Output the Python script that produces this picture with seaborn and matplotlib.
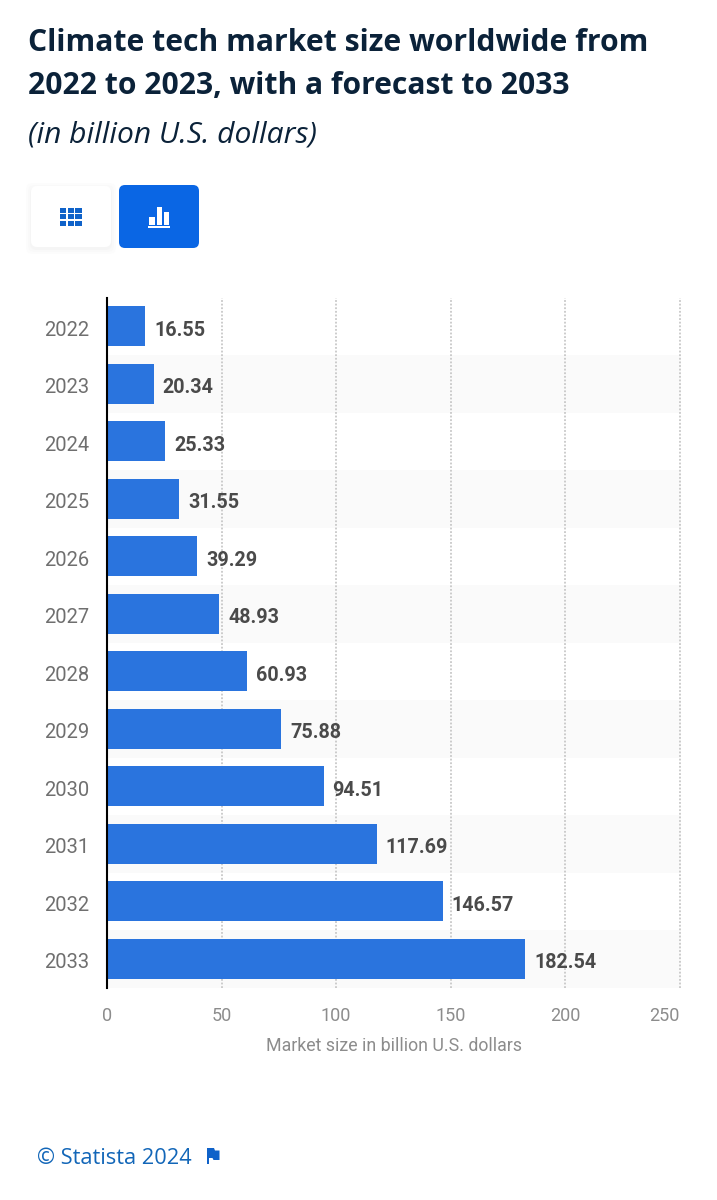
import matplotlib
matplotlib.use('Agg')
import matplotlib.pyplot as plt
import pandas as pd
import seaborn as sns
from matplotlib.patches import FancyBboxPatch, Polygon, Rectangle
from matplotlib.transforms import ScaledTranslation

years = ['2022', '2023', '2024', '2025', '2026', '2027',
         '2028', '2029', '2030', '2031', '2032', '2033']
market_size = [16.55, 20.34, 25.33, 31.55, 39.29, 48.93,
               60.93, 75.88, 94.51, 117.69, 146.57, 182.54]
x_ticks = [0, 50, 100, 150, 200, 250]

W, H = 717, 1200
BAR_COLOR = '#2a74de'
BUTTON_BLUE = '#0a66e4'
ICON_BLUE = '#0f62c9'
TITLE_COLOR = '#0b2239'


def draw_buttons(ui):
    # shadow of the table button, then the button itself
    for grow, col in [(5, '#fcfcfc'), (3, '#f9f9f9'), (1, '#f5f5f5')]:
        ui.add_patch(FancyBboxPatch((31 - grow, 186 - grow + 2), 80 + 2 * grow, 61 + 2 * grow,
                                    boxstyle='round,pad=0,rounding_size=7', fc=col, ec='none'))
    ui.add_patch(FancyBboxPatch((31, 186), 80, 61, boxstyle='round,pad=0,rounding_size=6',
                                fc='white', ec='none'))
    ui.add_patch(FancyBboxPatch((119, 185), 80, 63, boxstyle='round,pad=0,rounding_size=6',
                                fc=BUTTON_BLUE, ec='none'))
    # table icon
    for col in range(3):
        for row in range(3):
            ui.add_patch(Rectangle((60 + col * 7.6, 207.5 + row * 6.7), 6.4, 5.2,
                                   fc=ICON_BLUE, ec='none'))
    # bar icon
    for x, top, bottom in [(149, 217, 224.5), (156.7, 206.5, 224.5), (163.8, 212, 224.5)]:
        ui.add_patch(Rectangle((x, top), 5.5, bottom - top, fc='white', ec='none'))
    ui.add_patch(Rectangle((148, 226), 22, 2, fc='white', ec='none'))


def draw_flag(ui):
    ui.add_patch(Rectangle((207, 1148), 1.6, 16, fc=ICON_BLUE, ec='none'))
    ui.add_patch(Polygon([(208, 1148), (214, 1148), (215, 1150.5), (219.5, 1150.5), (219.5, 1160),
                          (213.5, 1160), (212.5, 1158), (208, 1158)], fc=ICON_BLUE, ec='none'))


def main():
    sns.set_theme(style='white')
    plt.rcParams['font.family'] = ['Roboto', 'DejaVu Sans']

    df = pd.DataFrame({'year': years, 'size': market_size})

    fig = plt.figure(figsize=(W / 100, H / 100), dpi=100, facecolor='white')

    ui = fig.add_axes([0, 0, 1, 1], zorder=0)
    ui.set_xlim(0, W)
    ui.set_ylim(H, 0)
    ui.axis('off')

    ax = fig.add_axes([107 / W, 1 - 987.5 / H, (681 - 107) / W, (987.5 - 297.5) / H], zorder=1)
    ax.patch.set_alpha(0)

    sns.barplot(data=df, x='size', y='year', orient='h', color=BAR_COLOR, saturation=1,
                width=0.7, linewidth=0, ax=ax, zorder=3)

    ax.set_xlim(0, 250.5)
    ax.set_ylim(len(years) - 0.5, -0.5)

    # alternating row stripes
    for i in range(1, len(years), 2):
        ax.axhspan(i - 0.5, i + 0.5, color='#fafafa', lw=0, zorder=0)

    for x in x_ticks[1:]:
        ax.axvline(x, color='#c8c8c8', lw=1.3, ls=(0, (1, 1)), zorder=1, clip_on=False)

    for i, v in enumerate(market_size):
        ax.annotate(f'{v:.2f}', (v, i), xytext=(6.5, -3), textcoords='offset points',
                    va='center', ha='left', fontsize=14.2, fontweight=600, color='#4a4a4a',
                    zorder=4)

    sns.despine(ax=ax, top=True, right=True, bottom=True, left=False)
    ax.spines['left'].set_color('black')
    ax.spines['left'].set_linewidth(1.5)
    ax.spines['left'].set_zorder(5)

    ax.set_xticks(x_ticks)
    ax.set_xticklabels([str(t) for t in x_ticks])
    ax.tick_params(axis='x', length=0, pad=14, labelsize=13, labelcolor='#8c8c8c')
    ax.tick_params(axis='y', length=0, pad=12.5, labelsize=14.5, labelcolor='#6f6f6f')
    # the last x label stays inside the plot edge
    ax.get_xticklabels()[-1].set_ha('right')
    # year labels sit a little below the bar centre
    shift = ScaledTranslation(0, -2 / 100, fig.dpi_scale_trans)
    for lab in ax.get_yticklabels():
        lab.set_transform(lab.get_transform() + shift)

    ax.set_ylabel('')
    ax.set_xlabel('')
    ui.text(394, 1046, 'Market size in billion U.S. dollars', fontsize=12.8, color='#8c8c8c',
            va='center', ha='center')

    # header, as text on the page
    open_sans = ['Open Sans', 'DejaVu Sans']
    ui.text(28, 43, 'Climate tech market size worldwide from', family=open_sans, fontsize=21.7,
            fontweight='bold', color=TITLE_COLOR, va='center', ha='left')
    ui.text(28, 86, '2022 to 2023, with a forecast to 2033', family=open_sans, fontsize=21.65,
            fontweight='bold', color=TITLE_COLOR, va='center', ha='left')
    ui.text(28, 135, '(in billion U.S. dollars)', family=open_sans, fontsize=21.6,
            style='italic', color=TITLE_COLOR, va='center', ha='left')
    ui.text(37, 1158, '© Statista 2024', family=open_sans, fontsize=15.7, color='#1266b8',
            va='center', ha='left')

    draw_buttons(ui)
    draw_flag(ui)

    fig.savefig('out.png', dpi=100, facecolor='white')
    plt.close(fig)


if __name__ == '__main__':
    main()
